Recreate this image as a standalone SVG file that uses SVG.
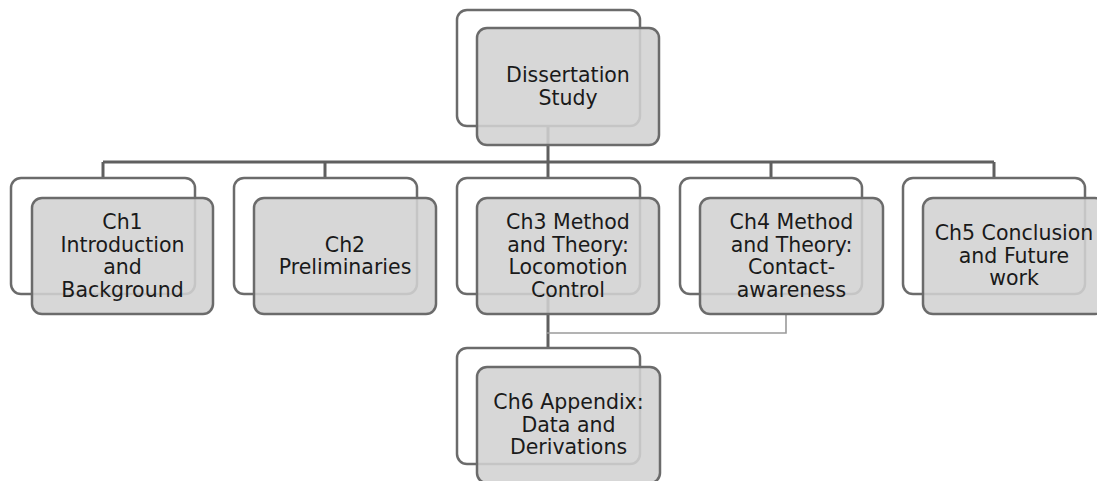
<svg xmlns="http://www.w3.org/2000/svg" width="1097" height="481" viewBox="0 0 1097 481">
  <style>
    .back { fill: none; stroke: #6b6b6b; stroke-width: 2.5; }
    .front { fill: #d2d2d2; fill-opacity: 0.88; stroke: #6b6b6b; stroke-width: 2.5; }
    .label { font-family: "DejaVu Sans", Verdana, sans-serif; font-size: 20.5px; fill: #1a1a1a; text-anchor: middle; }
    .link { fill: none; stroke: #5f5f5f; stroke-width: 3; }
    .link-thin { fill: none; stroke: #9a9a9a; stroke-width: 1.6; }
  </style>
  <rect width="1097" height="481" fill="#ffffff"/>

  <!-- connectors sit under the boxes -->
  <g id="connectors">
    <path class="link" d="M548 126 V162"/>
    <path class="link" d="M103 162 H994"/>
    <path class="link" d="M103 162 V178"/>
    <path class="link" d="M325 162 V178"/>
    <path class="link" d="M548 162 V178"/>
    <path class="link" d="M771 162 V178"/>
    <path class="link" d="M994 162 V178"/>
    <path class="link" d="M548 294 V348"/>
    <path class="link-thin" d="M786 314 V333 H547"/>
  </g>

  <g id="dissertation">
    <rect class="back" x="457" y="10" width="183" height="116" rx="10"/>
    <rect class="front" x="477" y="28" width="182" height="117" rx="10"/>
    <text class="label" x="568" y="82">Dissertation</text>
    <text class="label" x="568" y="104.5">Study</text>
  </g>

  <g id="ch1">
    <rect class="back" x="11" y="178" width="184" height="116" rx="10"/>
    <rect class="front" x="32" y="198" width="181" height="116" rx="10"/>
    <text class="label" x="122.5" y="229">Ch1</text>
    <text class="label" x="122.5" y="251.5">Introduction</text>
    <text class="label" x="122.5" y="274">and</text>
    <text class="label" x="122.5" y="296.5">Background</text>
  </g>

  <g id="ch2">
    <rect class="back" x="234" y="178" width="183" height="116" rx="10"/>
    <rect class="front" x="254" y="198" width="182" height="116" rx="10"/>
    <text class="label" x="345" y="251.5">Ch2</text>
    <text class="label" x="345" y="274">Preliminaries</text>
  </g>

  <g id="ch3">
    <rect class="back" x="457" y="178" width="183" height="116" rx="10"/>
    <rect class="front" x="477" y="198" width="182" height="116" rx="10"/>
    <text class="label" x="568" y="229">Ch3 Method</text>
    <text class="label" x="568" y="251.5">and Theory:</text>
    <text class="label" x="568" y="274">Locomotion</text>
    <text class="label" x="568" y="296.5">Control</text>
  </g>

  <g id="ch4">
    <rect class="back" x="680" y="178" width="182" height="116" rx="10"/>
    <rect class="front" x="700" y="198" width="183" height="116" rx="10"/>
    <text class="label" x="791.5" y="229">Ch4 Method</text>
    <text class="label" x="791.5" y="251.5">and Theory:</text>
    <text class="label" x="791.5" y="274">Contact-</text>
    <text class="label" x="791.5" y="296.5">awareness</text>
  </g>

  <g id="ch5">
    <rect class="back" x="903" y="178" width="182" height="116" rx="10"/>
    <rect class="front" x="923" y="198" width="182" height="116" rx="10"/>
    <text class="label" x="1014" y="240">Ch5 Conclusion</text>
    <text class="label" x="1014" y="262.5">and Future</text>
    <text class="label" x="1014" y="285">work</text>
  </g>

  <g id="ch6">
    <rect class="back" x="457" y="348" width="183" height="116" rx="10"/>
    <rect class="front" x="477" y="367" width="183" height="116" rx="10"/>
    <text class="label" x="568.5" y="409">Ch6 Appendix:</text>
    <text class="label" x="568.5" y="431.5">Data and</text>
    <text class="label" x="568.5" y="454">Derivations</text>
  </g>
</svg>
